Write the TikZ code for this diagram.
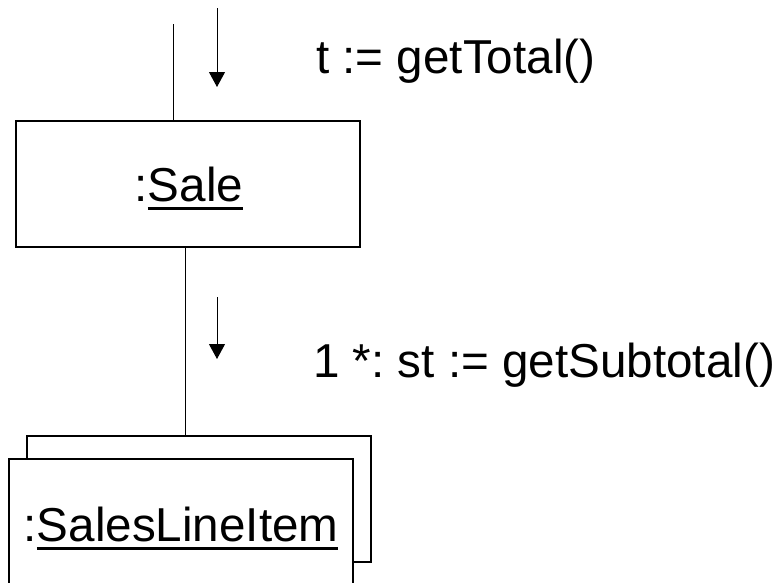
\documentclass[tikz,border=0pt]{standalone}
\usepackage{fontspec}
\setmainfont{Liberation Sans}
\usetikzlibrary{arrows.meta}

% underlined object name (UML instance notation)
\newsavebox\objulbox
\newcommand\objname[1]{\sbox\objulbox{#1}\rlap{\raisebox{-9pt}{\rule{\wd\objulbox}{3pt}}}\usebox\objulbox}

\begin{document}
\frenchspacing
\begin{tikzpicture}[x=1pt,y=-1pt,
  objbox/.style={draw, line width=1.5pt, fill=white, minimum width=344pt, minimum height=126pt, inner sep=0pt},
  lbl/.style={inner sep=0pt, font=\fontsize{47.6pt}{50pt}\selectfont},
  link/.style={line width=1pt},
  msgarrow/.style={line width=1pt, -{Triangle[width=16pt,length=15pt]}}
]
\useasboundingbox (0,0) rectangle (781,582);

% objects
\node[objbox] (sale) at (188,184) {};
\node[objbox] (itemsback) at (199,499) {};
\node[objbox] (items) at (181,522) {};

\node[lbl, anchor=base] (salename) at (189,201) {:\objname{Sale}};
\node[lbl, anchor=base] (itemsname) at (181,541) {:\objname{SalesLineItem}};

% incoming link and message
\coordinate (in) at (173,24);
\draw[link] (in) -- (in |- sale.north);
\coordinate (m1s) at (217,8);
\coordinate (m1e) at (217,87);
\draw[msgarrow] (m1s) -- (m1e);
\node[lbl, anchor=base west] (msg1) at (316,73) {t := getTotal()};

% link Sale -> SalesLineItem
\draw[link] ([xshift=-3pt]sale.south) -- ([xshift=-3pt]sale.south |- itemsback.north);
\coordinate (m2s) at (217,297);
\coordinate (m2e) at (217,359);
\draw[msgarrow] (m2s) -- (m2e);
\node[lbl, anchor=base west] (msg2) at (313,377) {1 *: st := getSubtotal()};
\end{tikzpicture}
\end{document}
